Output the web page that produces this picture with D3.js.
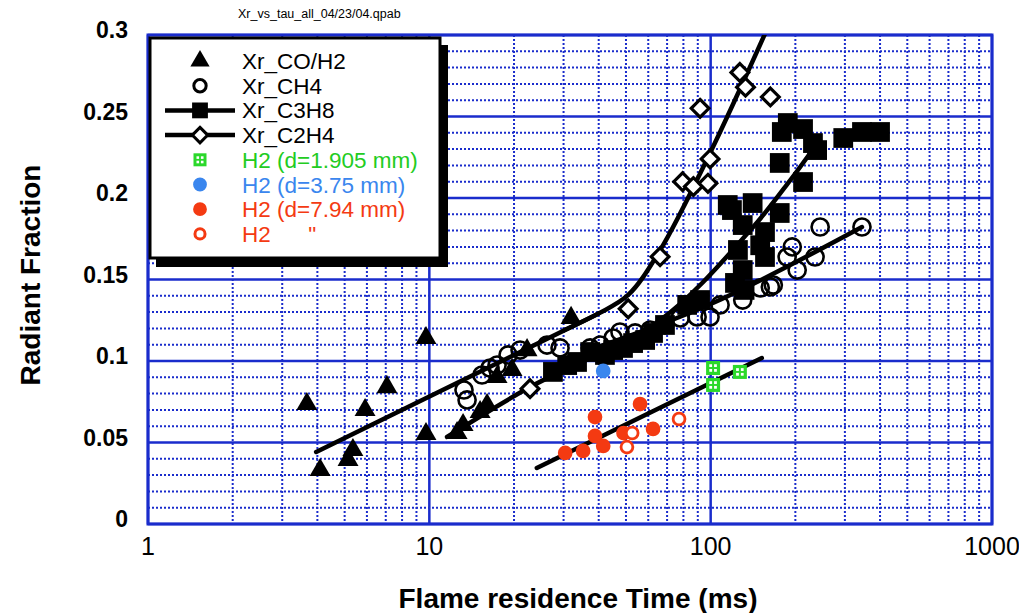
<!DOCTYPE html>
<html>
<head>
<meta charset="utf-8">
<script src="https://cdn.jsdelivr.net/npm/d3@7"></script>
<style>
  body { margin: 0; background: #fff; }
  svg text { font-family: "Liberation Sans", Arial, Helvetica, sans-serif; }
</style>
</head>
<body>
<svg id="chart" width="1019" height="613"></svg>
<script>
// radiant fraction vs flame residence time

var xTicks = [1, 10, 100, 1000];
var yTicks = [0, 0.05, 0.1, 0.15, 0.2, 0.25, 0.3];
var yTickLabels = ["0", "0.05", "0.1", "0.15", "0.2", "0.25", "0.3"];

// [time ms, radiant fraction]
var coH2 = [
  [3.67, 0.0736], [4.09, 0.0331], [5.14, 0.0393], [5.35, 0.0454], [5.91, 0.0699],
  [7.07, 0.084], [9.73, 0.1141], [9.73, 0.0552], [12.55, 0.0558], [13.18, 0.0607],
  [15.15, 0.0687], [16.04, 0.073], [17.41, 0.0902], [19.68, 0.0945], [22.25, 0.1067],
  [31.9, 0.1264]
];

var ch4 = [
  [13.28, 0.0822], [13.62, 0.0761], [15.39, 0.0914], [16.44, 0.0957], [17.41, 0.0975],
  [19.05, 0.1037], [21.01, 0.1067], [26.2, 0.1098], [29.15, 0.108], [37.3, 0.108],
  [40.5, 0.1098], [45.0, 0.1141], [47.6, 0.1178], [53.9, 0.1172], [60.9, 0.119],
  [68.8, 0.1221], [77.9, 0.1264], [89.5, 0.127], [99.5, 0.127], [108, 0.1344],
  [130, 0.1374], [150, 0.1448], [163, 0.1454], [167, 0.1466], [187, 0.1638],
  [195, 0.17], [203, 0.1558], [235, 0.1638], [245, 0.1822], [345, 0.1822]
];

var c3h8 = [
  [27.5, 0.0933], [30.9, 0.0975], [33.5, 0.0994], [37.3, 0.1055], [42.1, 0.1037],
  [45.0, 0.1067], [48.8, 0.108], [53.0, 0.111], [58.5, 0.1129], [62.4, 0.1172],
  [68.8, 0.1221], [82.5, 0.1344], [91.7, 0.1374],
  [115, 0.1957], [119, 0.1926], [130, 0.1834], [141, 0.1969], [156, 0.1791], [176, 0.1908],
  [125, 0.1681], [150, 0.171], [156, 0.1638], [130, 0.1558], [122, 0.1479], [132, 0.1436],
  [179, 0.2405], [188, 0.246], [213, 0.2423], [231, 0.2337], [176, 0.2215],
  [239, 0.2294], [213, 0.2098], [296, 0.2368], [345, 0.2405], [400, 0.2405]
];

var c2h4 = [
  [22.8, 0.083], [50.9, 0.132], [66.1, 0.164], [79.5, 0.21], [86.8, 0.207],
  [97.8, 0.209], [99.5, 0.224], [91.7, 0.255], [127, 0.277], [133, 0.268],
  [163, 0.262]
];

var h2Small = [[102, 0.0957], [102, 0.0853], [127, 0.0933]];
var h2Mid = [[41.5, 0.0939]];
var h2Large = [
  [30.4, 0.0436], [35.2, 0.0448], [38.8, 0.0656], [38.8, 0.054], [41.5, 0.0479],
  [49.0, 0.0558], [56.1, 0.0736], [62.4, 0.0583]
];
var h2LargeOpen = [[52.6, 0.0558], [50.4, 0.0472], [77.2, 0.0644]];

// fitted curves
var fitCoH2 = [[3.96, 0.0442], [40, 0.1292]];
var fitC2H4 = [[30, 0.1187], [40, 0.1292], [50.9, 0.1405], [66.1, 0.168], [99.5, 0.2276], [160, 0.305]];
var fitC3H8 = [[11.56, 0.0534], [22.8, 0.084], [66, 0.125], [138, 0.18], [192, 0.211], [229, 0.229]];
var fitCH4 = [[37.3, 0.107], [100, 0.135], [345, 0.1822]];
var fitH2 = [[24.1, 0.0344], [152, 0.1018]];

var legendNames = ["Xr_CO/H2", "Xr_CH4", "Xr_C3H8", "Xr_C2H4",
                   "H2 (d=1.905 mm)", "H2 (d=3.75 mm)", "H2 (d=7.94 mm)", "H2      \""];

var gridBlue = "#1a2ccc",
    green = "#2bd82b",
    blue = "#3a86ee",
    red = "#f43a12";

var margin = {left: 148, right: 27, top: 35, bottom: 89},
    width = 1019 - margin.left - margin.right,
    height = 613 - margin.top - margin.bottom;

var svg = d3.select("#chart");

var x = d3.scaleLog().domain([1, 1000]).range([0, width]);
var y = d3.scaleLinear().domain([0, 0.3]).range([height, 0]);

var g = svg.append("g")
    .attr("transform", "translate(" + margin.left + "," + margin.top + ")");

svg.append("defs").append("clipPath").attr("id", "plot-clip")
    .append("rect").attr("width", width).attr("height", height);

// minor grid
var minorX = [];
[1, 10, 100].forEach(function(dec) {
  for (var k = 2; k <= 9; k++) minorX.push(dec * k);
});
var minorY = d3.range(1, 30).map(function(i) { return i / 100; })
    .filter(function(v) { return Math.round(v * 100) % 5 != 0; });

g.selectAll(".minor-x").data(minorX).enter().append("line")
    .attr("x1", function(d) { return x(d); }).attr("x2", function(d) { return x(d); })
    .attr("y1", 0).attr("y2", height)
    .attr("stroke", gridBlue).attr("stroke-width", 2).attr("stroke-dasharray", "2,2");

g.selectAll(".minor-y").data(minorY).enter().append("line")
    .attr("x1", 0).attr("x2", width)
    .attr("y1", function(d) { return y(d); }).attr("y2", function(d) { return y(d); })
    .attr("stroke", gridBlue).attr("stroke-width", 2).attr("stroke-dasharray", "2,2");

// major grid
g.selectAll(".major-x").data(xTicks).enter().append("line")
    .attr("x1", function(d) { return x(d); }).attr("x2", function(d) { return x(d); })
    .attr("y1", 0).attr("y2", height)
    .attr("stroke", gridBlue).attr("stroke-width", 2.5);

g.selectAll(".major-y").data(yTicks).enter().append("line")
    .attr("x1", 0).attr("x2", width)
    .attr("y1", function(d) { return y(d); }).attr("y2", function(d) { return y(d); })
    .attr("stroke", gridBlue).attr("stroke-width", 2.5);

g.append("rect")
    .attr("width", width).attr("height", height)
    .attr("fill", "none").attr("stroke", gridBlue).attr("stroke-width", 3);

// tick labels
g.selectAll(".ylab").data(yTicks).enter().append("text")
    .attr("x", -20).attr("y", function(d) { return y(d) + 3; })
    .attr("text-anchor", "end")
    .style("font-size", "23px").style("font-weight", "bold")
    .text(function(d, i) { return yTickLabels[i]; });

g.selectAll(".xlab").data(xTicks).enter().append("text")
    .attr("x", function(d) { return x(d); }).attr("y", height + 31)
    .attr("text-anchor", "middle")
    .style("font-size", "25px")
    .style("font-family", "'Liberation Sans Narrow', 'Liberation Sans', Arial, sans-serif")
    .text(function(d) { return d; });

svg.append("text")
    .attr("x", 578).attr("y", 608)
    .attr("text-anchor", "middle")
    .style("font-size", "28px").style("font-weight", "bold")
    .text("Flame residence Time (ms)");

svg.append("text")
    .attr("transform", "translate(40,275) rotate(-90)")
    .attr("text-anchor", "middle")
    .style("font-size", "28px").style("font-weight", "bold")
    .text("Radiant Fraction");

svg.append("text")
    .attr("x", 238).attr("y", 18)
    .style("font-size", "12.5px")
    .text("Xr_vs_tau_all_04/23/04.qpab");

// fit lines
var plot = g.append("g").attr("clip-path", "url(#plot-clip)");

var line = d3.line()
    .x(function(d) { return x(d[0]); })
    .y(function(d) { return y(d[1]); })
    .curve(d3.curveCatmullRom.alpha(0.5));

[fitCoH2, fitC2H4, fitC3H8, fitCH4, fitH2].forEach(function(f) {
  plot.append("path")
      .attr("d", line(f))
      .attr("fill", "none").attr("stroke", "#000")
      .attr("stroke-width", 4.5).attr("stroke-linecap", "round");
});

// markers
function drawSymbols(data, type, size, fill, stroke, sw) {
  plot.selectAll(null).data(data).enter().append("path")
      .attr("transform", function(d) { return "translate(" + x(d[0]) + "," + y(d[1]) + ")"; })
      .attr("d", d3.symbol().type(type).size(size))
      .attr("fill", fill).attr("stroke", stroke).attr("stroke-width", sw);
}

drawSymbols(coH2, d3.symbolTriangle, 190, "#000", "none", 0);
drawSymbols(ch4, d3.symbolCircle, 230, "none", "#000", 2.6);
drawSymbols(c3h8, d3.symbolSquare, 390, "#000", "none", 0);
drawSymbols(c2h4, d3.symbolDiamond2, 200, "#fff", "#000", 3.2);
drawSymbols(h2Mid, d3.symbolCircle, 170, blue, "none", 0);
drawSymbols(h2Large, d3.symbolCircle, 170, red, "none", 0);
drawSymbols(h2LargeOpen, d3.symbolCircle, 110, "#fff", red, 2.8);

function drawBoxPlus(sel, data, s) {
  var cells = sel.selectAll(null).data(data).enter().append("g")
      .attr("transform", function(d) { return "translate(" + x(d[0]) + "," + y(d[1]) + ")"; });
  cells.append("rect")
      .attr("x", -s / 2).attr("y", -s / 2).attr("width", s).attr("height", s)
      .attr("fill", green);
  [[-1, -1], [1, -1], [-1, 1], [1, 1]].forEach(function(o) {
    cells.append("rect")
        .attr("x", o[0] * s * 0.17 - s * 0.1).attr("y", o[1] * s * 0.17 - s * 0.1)
        .attr("width", s * 0.2).attr("height", s * 0.2).attr("fill", "#fff");
  });
}
drawBoxPlus(plot, h2Small, 14);

// legend
var legend = svg.append("g");
legend.append("rect")
    .attr("x", 156).attr("y", 45).attr("width", 292).attr("height", 222)
    .attr("fill", "#000");
legend.append("rect")
    .attr("x", 150).attr("y", 38).attr("width", 290).attr("height", 220)
    .attr("fill", "#fff").attr("stroke", "#000").attr("stroke-width", 3);

var legendColors = ["#000", "#000", "#000", "#000", "#22cc22", blue, red, red];
var rowY = d3.range(legendNames.length).map(function(i) { return 61 + i * 24.7; });

legend.selectAll(".ltext").data(legendNames).enter().append("text")
    .attr("x", 242).attr("y", function(d, i) { return rowY[i] + 8; })
    .attr("fill", function(d, i) { return legendColors[i]; })
    .style("font-size", "22.5px")
    .attr("xml:space", "preserve")
    .text(function(d) { return d; });

[2, 3].forEach(function(i) {
  legend.append("line")
      .attr("x1", 165).attr("x2", 235)
      .attr("y1", rowY[i]).attr("y2", rowY[i])
      .attr("stroke", "#000").attr("stroke-width", 4.5);
});

var lx = 200;
function legendSym(i, type, size, fill, stroke, sw) {
  legend.append("path")
      .attr("transform", "translate(" + lx + "," + rowY[i] + ")")
      .attr("d", d3.symbol().type(type).size(size))
      .attr("fill", fill).attr("stroke", stroke).attr("stroke-width", sw);
}
legendSym(0, d3.symbolTriangle, 160, "#000", "none", 0);
legendSym(1, d3.symbolCircle, 120, "#fff", "#000", 3);
legendSym(2, d3.symbolSquare, 250, "#000", "none", 0);
legendSym(3, d3.symbolDiamond2, 150, "#fff", "#000", 3);
legendSym(5, d3.symbolCircle, 150, blue, "none", 0);
legendSym(6, d3.symbolCircle, 150, red, "none", 0);
legendSym(7, d3.symbolCircle, 80, "#fff", red, 3);

var lg = legend.append("g").attr("transform", "translate(" + lx + "," + rowY[4] + ")");
var ls = 13;
lg.append("rect").attr("x", -ls / 2).attr("y", -ls / 2).attr("width", ls).attr("height", ls).attr("fill", green);
[[-1, -1], [1, -1], [-1, 1], [1, 1]].forEach(function(o) {
  lg.append("rect")
      .attr("x", o[0] * ls * 0.17 - ls * 0.1).attr("y", o[1] * ls * 0.17 - ls * 0.1)
      .attr("width", ls * 0.2).attr("height", ls * 0.2).attr("fill", "#fff");
});
</script>
</body>
</html>
